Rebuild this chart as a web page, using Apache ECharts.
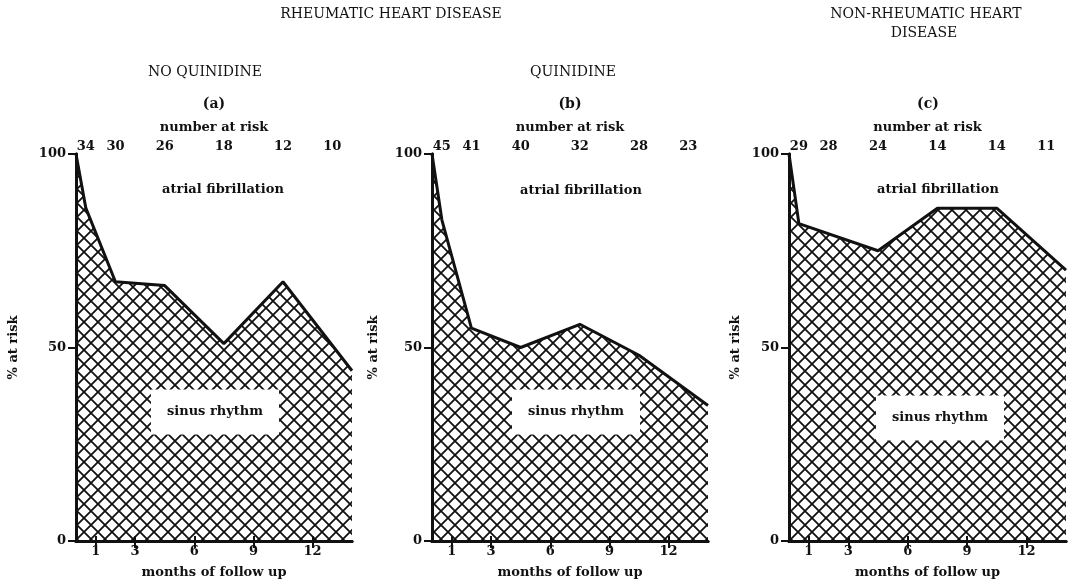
<!DOCTYPE html>
<html>
<head>
<meta charset="utf-8">
<script src="https://cdn.jsdelivr.net/npm/echarts@6/dist/echarts.min.js"></script>
<style>
html,body{margin:0;padding:0;background:#fff;}
#chart{width:1069px;height:587px;}
</style>
</head>
<body>
<div id="chart"></div>
<script>
// ---- data ----
const monthsA = [0, 0.5, 2, 4.5, 7.5, 10.5, 14];
const pctA    = [100, 86, 67, 66, 51, 67, 44];
const monthsB = [0, 0.5, 2, 4.5, 7.5, 10.5, 14];
const pctB    = [100, 83, 55, 50, 56, 48, 35];
const monthsC = [0, 0.5, 4.5, 7.5, 10.5, 14];
const pctC    = [100, 82, 75, 86, 86, 70];
const riskPos = [0.5, 2, 4.5, 7.5, 10.5, 13];
const riskA   = [34, 30, 26, 18, 12, 10];
const riskB   = [45, 41, 40, 32, 28, 23];
const riskC   = [29, 28, 24, 14, 14, 11];
const monthTicks = [1, 3, 6, 9, 12];

// ---- hatch pattern ----
const P = 14;
const cv = document.createElement('canvas');
cv.width = P; cv.height = P;
const cx = cv.getContext('2d');
cx.strokeStyle = '#111';
cx.lineWidth = 1.8;
cx.beginPath();
cx.moveTo(-2, -2); cx.lineTo(P + 2, P + 2);
cx.moveTo(P + 2, -2); cx.lineTo(-2, P + 2);
cx.stroke();

const FONT = '"DejaVu Serif", "Liberation Serif", serif';
const grids = [
  {left: 76, top: 154, width: 276, height: 387, nameGap: 56},
  {left: 432, top: 154, width: 276, height: 387, nameGap: 52},
  {left: 789, top: 154, width: 277, height: 387, nameGap: 47}
];
const panels = [
  {m: monthsA, p: pctA, r: riskA},
  {m: monthsB, p: pctB, r: riskB},
  {m: monthsC, p: pctC, r: riskC}
];

const option = {
  backgroundColor: '#fff',
  animation: false,
  grid: grids.map(g => ({left: g.left, top: g.top, width: g.width, height: g.height, containLabel: false})),
  xAxis: [], yAxis: [], series: [], graphic: []
};

panels.forEach((pn, i) => {
  const axisTxt = {color: '#111', fontFamily: FONT, fontWeight: 'bold', fontSize: 13};
  const nameTxt = {color: '#111', fontFamily: FONT, fontWeight: 'bold', fontSize: 13};
  option.xAxis.push({
    gridIndex: i, type: 'value', min: 0, max: 14, position: 'bottom',
    axisLine: {show: true, lineStyle: {color: '#111', width: 3}},
    axisTick: {show: true, customValues: monthTicks, length: 7, lineStyle: {color: '#111', width: 2}},
    axisLabel: Object.assign({customValues: monthTicks, margin: 4}, axisTxt),
    splitLine: {show: false},
    name: 'months of follow up', nameLocation: 'middle', nameGap: 25,
    nameTextStyle: nameTxt
  });
  option.xAxis.push({
    gridIndex: i, type: 'value', min: 0, max: 14, position: 'top',
    axisLine: {show: true, lineStyle: {color: '#111', width: 3}},
    axisTick: {show: true, customValues: monthTicks, length: 5, lineStyle: {color: '#111', width: 2}},
    axisLabel: Object.assign({
      customValues: riskPos, margin: 1,
      formatter: v => { const k = riskPos.indexOf(v); return k >= 0 ? String(pn.r[k]) : ''; }
    }, axisTxt),
    splitLine: {show: false},
    name: 'number at risk', nameLocation: 'middle', nameGap: 20,
    nameTextStyle: nameTxt
  });
  option.yAxis.push({
    gridIndex: i, type: 'value', min: 0, max: 100, interval: 50, position: 'left',
    axisLine: {show: true, lineStyle: {color: '#111', width: 3}},
    axisTick: {show: true, length: 8, lineStyle: {color: '#111', width: 2}},
    axisLabel: Object.assign({margin: 10}, axisTxt),
    splitLine: {show: false},
    name: '% at risk', nameLocation: 'middle', nameRotate: 90, nameGap: grids[i].nameGap,
    nameTextStyle: nameTxt
  });
  option.yAxis.push({
    gridIndex: i, type: 'value', min: 0, max: 100, position: 'right',
    axisLine: {show: true, lineStyle: {color: '#111', width: 3}},
    axisTick: {show: false}, axisLabel: {show: false}, splitLine: {show: false}
  });
  option.series.push({
    type: 'line', xAxisIndex: 2 * i, yAxisIndex: 2 * i,
    data: pn.m.map((x, k) => [x, pn.p[k]]),
    symbol: 'none', clip: false,
    lineStyle: {color: '#111', width: 3},
    areaStyle: {color: {image: cv, repeat: 'repeat'}, opacity: 1}
  });
});

function txt(x, y, text, size, weight, bg) {
  const st = {text: text, x: x, y: y, align: 'center', verticalAlign: 'middle',
    font: (weight || 'normal') + ' ' + size + 'px ' + FONT, fill: '#111'};
  if (bg) { st.backgroundColor = '#fff'; st.padding = [16, 16]; }
  return {type: 'text', z: 100, style: st};
}
option.graphic = [
  txt(391, 14, 'RHEUMATIC HEART DISEASE', 14),
  txt(926, 14, 'NON-RHEUMATIC HEART', 14),
  txt(924, 33, 'DISEASE', 14),
  txt(205, 72, 'NO QUINIDINE', 14),
  txt(573, 72, 'QUINIDINE', 14),
  txt(214, 104, '(a)', 14, 'bold'),
  txt(570, 104, '(b)', 14, 'bold'),
  txt(928, 104, '(c)', 14, 'bold'),
  txt(223, 190, 'atrial fibrillation', 13, 'bold'),
  txt(581, 191, 'atrial fibrillation', 13, 'bold'),
  txt(938, 190, 'atrial fibrillation', 13, 'bold'),
  txt(215, 412, 'sinus rhythm', 13, 'bold', true),
  txt(576, 412, 'sinus rhythm', 13, 'bold', true),
  txt(940, 418, 'sinus rhythm', 13, 'bold', true)
];

const chart = echarts.init(document.getElementById('chart'), null, {renderer: 'canvas'});
chart.setOption(option);
</script>
</body>
</html>
